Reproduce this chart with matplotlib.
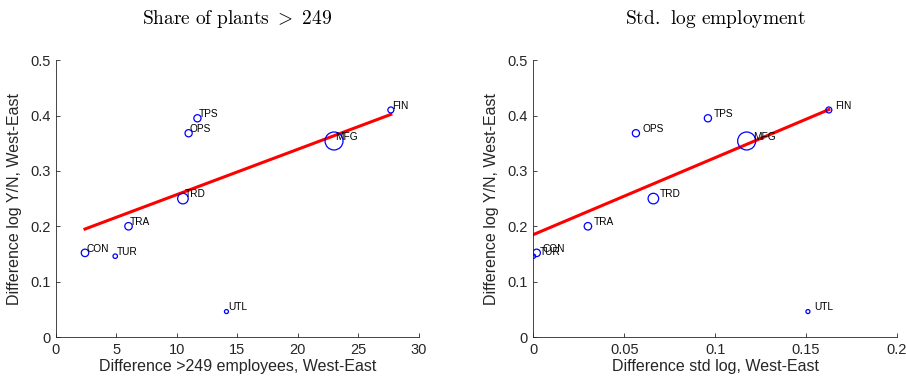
import numpy as np
import matplotlib
matplotlib.use("Agg")
import matplotlib.pyplot as plt

plt.rcParams['font.family'] = ['Liberation Sans', 'DejaVu Sans']
plt.rcParams['mathtext.fontset'] = 'cm'

# Sectors and their employment weights (marker area)
sectors = ["CON", "TUR", "TRA", "TRD", "OPS", "TPS", "UTL", "MFG", "FIN"]
weight = [14, 5, 14, 28, 13, 13, 4, 81, 9]

# West-East gap in log output per worker
dlog_yn = [0.152, 0.146, 0.200, 0.250, 0.368, 0.395, 0.046, 0.354, 0.410]

# West-East gap in share of plants with >249 employees
d_large = [2.4, 4.9, 6.0, 10.5, 10.97, 11.7, 14.1, 23.0, 27.7]
# West-East gap in std of log employment
d_stdlog = [0.0018, 0.0, 0.030, 0.066, 0.0564, 0.096, 0.151, 0.1173, 0.1625]

# weighted fit lines (intercept, slope)
fit_large = (0.1754, 0.00818)
fit_stdlog = (0.185, 1.389)

panels = [
    (d_large, fit_large, r'$\mathrm{Share\ of\ plants}\ >\ 249$',
     "Difference >249 employees, West-East", (0, 30), np.arange(0, 31, 5), (1, 3)),
    (d_stdlog, fit_stdlog, r'$\mathrm{Std.\;\,log\ employment}$',
     "Difference std log, West-East", (0, 0.2), np.arange(0, 0.21, 0.05), (4.5, 3)),
]

fig = plt.figure(figsize=(9.06, 3.83), dpi=100)
axes_pos = [[0.0618, 0.120, 0.4003, 0.723], [0.5887, 0.120, 0.4014, 0.723]]
ink = '#262626'

for pos, (xv, fit, title, xlabel, xlim, xticks, off) in zip(axes_pos, panels):
    ax = fig.add_axes(pos)
    s = [2.07 * w for w in weight]
    ax.scatter(xv, dlog_yn, s=s, facecolors='none', edgecolors='blue', linewidths=0.9, zorder=3)
    for name, x, y in zip(sectors, xv, dlog_yn):
        ax.annotate(name, (x, y), xytext=off, textcoords='offset points',
                    ha='left', va='center', fontsize=7.3, color='black', zorder=4)
    xx = np.array([min(xv), max(xv)])
    ax.plot(xx, fit[0] + fit[1] * xx, color='red', lw=2.2, zorder=2)

    ax.set_xlim(*xlim)
    ax.set_ylim(0, 0.5)
    ax.set_xticks(xticks)
    ax.set_xticklabels([f"{t:g}" for t in xticks])
    ax.set_yticks(np.arange(0, 0.51, 0.1))
    ax.set_yticklabels([f"{t:g}" for t in np.arange(0, 0.51, 0.1)])
    for side in ['top', 'right']:
        ax.spines[side].set_visible(False)
    for side in ['left', 'bottom']:
        ax.spines[side].set_color(ink)
        ax.spines[side].set_linewidth(0.6)
    ax.tick_params(direction='in', length=3, width=0.6, colors=ink, labelsize=10.5, pad=4)
    ax.set_xlabel(xlabel, fontsize=11.5, color=ink, labelpad=2)
    ax.set_ylabel("Difference log Y/N, West-East", fontsize=11.5, color=ink, labelpad=6)
    ax.set_title(title, fontsize=14, pad=26)

fig.savefig("out.png", dpi=100)
